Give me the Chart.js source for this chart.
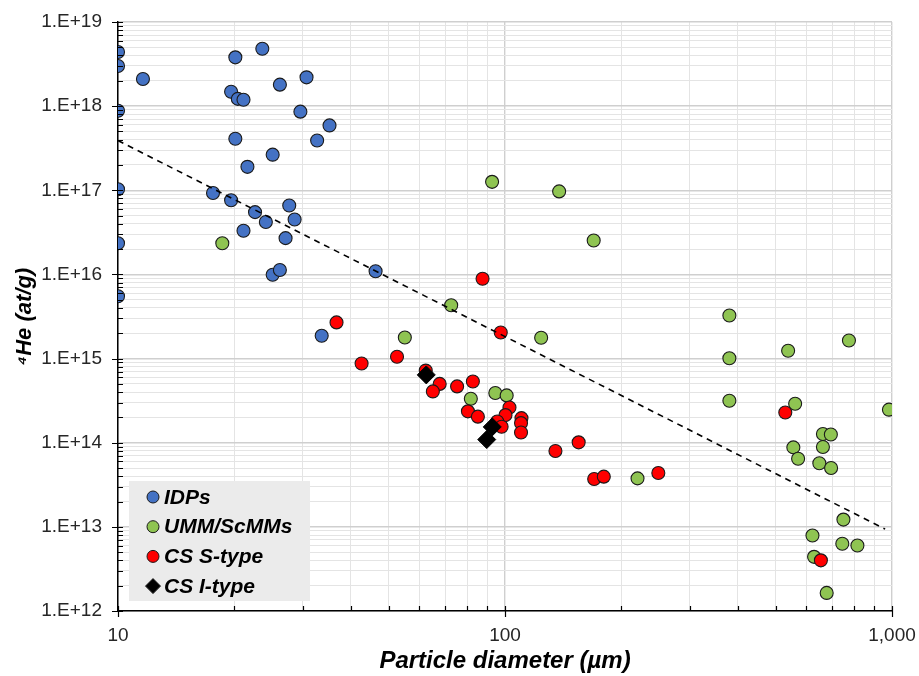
<!DOCTYPE html>
<html>
<head>
<meta charset="utf-8">
<script src="https://cdn.jsdelivr.net/npm/chart.js@4.4.1/dist/chart.umd.min.js"></script>
<style>
  body { margin: 0; background: #fff; }
  #wrap { width: 919px; height: 676px; }
</style>
</head>
<body>
<div id="wrap"><canvas id="heChart" width="919" height="676"></canvas></div>
<script>
// ---- data ----
const idpD  = [10, 10, 11.6, 10, 20.1, 23.6, 26.2, 30.7, 19.6, 20.4, 21.1, 29.6, 35.2, 32.7, 20.1, 25.1, 21.6, 10, 17.6, 19.6, 27.7, 22.6, 28.6, 24.1, 21.1, 27.1, 10, 25.1, 26.2, 10, 46.3, 33.6];
const idpHe = [4.4e18, 3.0e18, 2.1e18, 8.8e17, 3.8e18, 4.8e18, 1.8e18, 2.2e18, 1.48e18, 1.22e18, 1.19e18, 8.6e17, 5.9e17, 3.9e17, 4.1e17, 2.65e17, 1.9e17, 1.03e17, 9.3e16, 7.6e16, 6.6e16, 5.5e16, 4.5e16, 4.2e16, 3.3e16, 2.7e16, 2.35e16, 9.9e15, 1.13e16, 5.5e15, 1.09e16, 1.87e15];

const ummD  = [18.6, 92.6, 138, 169.5, 72.6, 55.1, 124, 94.4, 101, 81.6, 380, 380, 380, 539, 774, 562, 982, 663, 695, 556, 663, 572, 649, 696, 220, 749, 623, 744, 814, 629, 678];
const ummHe = [2.35e16, 1.26e17, 9.7e16, 2.53e16, 4.3e15, 1.78e15, 1.77e15, 3.9e14, 3.65e14, 3.33e14, 3.25e15, 1.01e15, 3.15e14, 1.24e15, 1.64e15, 2.9e14, 2.47e14, 1.27e14, 1.25e14, 8.8e13, 8.9e13, 6.45e13, 5.7e13, 5.0e13, 3.77e13, 1.22e13, 7.9e12, 6.3e12, 6.0e12, 4.4e12, 1.64e12];

const sTypeD  = [87.5, 97.5, 36.7, 42.6, 52.6, 62.4, 67.8, 65.1, 75.2, 82.6, 80.2, 85.1, 102.7, 100.3, 95.5, 98, 110.3, 110, 110, 135, 155, 170, 180, 249, 530, 655];
const sTypeHe = [8.9e15, 2.04e15, 2.69e15, 8.75e14, 1.05e15, 7.2e14, 5.0e14, 4.07e14, 4.67e14, 5.35e14, 2.36e14, 2.04e14, 2.62e14, 2.13e14, 1.79e14, 1.55e14, 1.96e14, 1.71e14, 1.32e14, 7.96e13, 1.01e14, 3.7e13, 3.95e13, 4.37e13, 2.29e14, 4.0e12];

const iTypeD  = [62.6, 92.7, 89.7];
const iTypeHe = [6.4e14, 1.54e14, 1.09e14];

// dashed power-law trend, end points
const trendD  = [10, 960];
const trendHe = [3.9e17, 9.4e12];

// axis ticks
const xMajor = [10, 100, 1000];
const xLabels = ["10", "100", "1,000"];
const yMajor = [1e12, 1e13, 1e14, 1e15, 1e16, 1e17, 1e18, 1e19];
const yLabels = ["1.E+12", "1.E+13", "1.E+14", "1.E+15", "1.E+16", "1.E+17", "1.E+18", "1.E+19"];

const legendItems = [
  { label: "IDPs", color: "#4472c4", style: "circle" },
  { label: "UMM/ScMMs", color: "#8fc452", style: "circle" },
  { label: "CS S-type", color: "#ff0000", style: "circle" },
  { label: "CS I-type", color: "#000000", style: "diamond" }
];

const pts = (xs, ys) => xs.map((x, i) => ({ x: x, y: ys[i] }));

// majors plus 2..9 minors in every decade
function withMinors(majors) {
  const out = [];
  for (let i = 0; i < majors.length - 1; i++) {
    for (let m = 1; m <= 9; m++) out.push(m * majors[i]);
  }
  out.push(majors[majors.length - 1]);
  return out;
}
const isMajor = v => Math.abs(Math.log10(v) - Math.round(Math.log10(v))) < 1e-9;

const FONT = "'Liberation Sans', Arial, sans-serif";

// small tick marks on the axis lines (minor inside, major crossing)
const axisTicks = {
  id: "axisTicks",
  afterDraw(chart) {
    const { ctx, chartArea: a } = chart;
    const xs = chart.scales.x, ys = chart.scales.y;
    ctx.save();
    ctx.strokeStyle = "#000";
    ctx.lineWidth = 1.2;
    ctx.beginPath();
    withMinors(yMajor).forEach(v => {
      const p = Math.round(ys.getPixelForValue(v)) + 0.5;
      if (isMajor(v)) { ctx.moveTo(a.left - 6, p); ctx.lineTo(a.left + 5, p); }
      else { ctx.moveTo(a.left, p); ctx.lineTo(a.left + 5, p); }
    });
    withMinors(xMajor).forEach(v => {
      const p = Math.round(xs.getPixelForValue(v)) + 0.5;
      if (isMajor(v)) { ctx.moveTo(p, a.bottom + 6); ctx.lineTo(p, a.bottom - 5); }
      else { ctx.moveTo(p, a.bottom); ctx.lineTo(p, a.bottom - 5); }
    });
    ctx.stroke();
    ctx.restore();
  }
};

// legend box inside the plot, lower left
const boxLegend = {
  id: "boxLegend",
  afterDatasetsDraw(chart) {
    const { ctx } = chart;
    ctx.save();
    ctx.fillStyle = "#ebebeb";
    ctx.fillRect(129, 481, 181, 120);
    ctx.font = "italic bold 21px " + FONT;
    ctx.textBaseline = "middle";
    legendItems.forEach((it, i) => {
      const cy = 497 + i * 29.7, cx = 153;
      ctx.beginPath();
      if (it.style === "circle") {
        ctx.arc(cx, cy, 6, 0, Math.PI * 2);
      } else {
        ctx.moveTo(cx, cy - 7.5); ctx.lineTo(cx + 7.5, cy); ctx.lineTo(cx, cy + 7.5); ctx.lineTo(cx - 7.5, cy); ctx.closePath();
      }
      ctx.fillStyle = it.color;
      ctx.fill();
      ctx.strokeStyle = "#1a1a1a";
      ctx.lineWidth = 1;
      ctx.stroke();
      ctx.fillStyle = "#000";
      ctx.fillText(it.label, 164, cy + 1);
    });
    ctx.restore();
  }
};

const circleSet = (label, data, color, order) => ({
  label, data, order,
  backgroundColor: color,
  borderColor: "#1a1a1a",
  borderWidth: 1.1,
  pointRadius: 6.5,
  pointHoverRadius: 6.5
});

new Chart(document.getElementById("heChart"), {
  type: "scatter",
  data: {
    datasets: [
      {
        label: "trend",
        data: pts(trendD, trendHe),
        showLine: true,
        borderColor: "#000",
        borderWidth: 1.6,
        borderDash: [6, 5],
        pointRadius: 0,
        order: 0
      },
      {
        label: "CS I-type",
        data: pts(iTypeD, iTypeHe),
        pointStyle: "rectRot",
        backgroundColor: "#000",
        borderColor: "#000",
        pointRadius: 9,
        order: 1
      },
      circleSet("CS S-type", pts(sTypeD, sTypeHe), "#ff0000", 2),
      circleSet("UMM/ScMMs", pts(ummD, ummHe), "#8fc452", 3),
      circleSet("IDPs", pts(idpD, idpHe), "#4472c4", 4)
    ]
  },
  options: {
    responsive: false,
    animation: false,
    layout: { padding: { top: 22, right: 27, left: 0, bottom: 0 } },
    plugins: { legend: { display: false }, tooltip: { enabled: false } },
    scales: {
      x: {
        type: "logarithmic",
        min: 10, max: 1000,
        afterBuildTicks: s => { s.ticks = withMinors(xMajor).map(v => ({ value: v, major: isMajor(v) })); },
        afterFit: s => { s.height = 65; s.paddingLeft = 0; s.paddingRight = 0; },
        ticks: {
          autoSkip: false,
          maxRotation: 0,
          padding: 13,
          color: "#262626",
          font: { family: FONT, size: 19 },
          callback: v => { const i = xMajor.indexOf(v); return i >= 0 ? xLabels[i] : ""; }
        },
        grid: {
          drawTicks: false,
          color: c => (c.tick && isMajor(c.tick.value)) ? "#cfcfcf" : "#e4e4e4",
          lineWidth: c => (c.tick && isMajor(c.tick.value)) ? 1.4 : 1
        },
        border: { color: "#000", width: 1.5 },
        title: {
          display: true,
          text: "Particle diameter (µm)",
          color: "#000",
          font: { family: FONT, size: 24, weight: "bold", style: "italic" },
          padding: { top: 0, bottom: 0 }
        }
      },
      y: {
        type: "logarithmic",
        min: 1e12, max: 1e19,
        afterBuildTicks: s => { s.ticks = withMinors(yMajor).map(v => ({ value: v, major: isMajor(v) })); },
        afterFit: s => { s.width = 118; s.paddingTop = 0; s.paddingBottom = 0; },
        ticks: {
          autoSkip: false,
          padding: 16,
          color: "#262626",
          font: { family: FONT, size: 19 },
          callback: v => { const i = yMajor.indexOf(v); return i >= 0 ? yLabels[i] : ""; }
        },
        grid: {
          drawTicks: false,
          color: c => (c.tick && isMajor(c.tick.value)) ? "#cfcfcf" : "#e4e4e4",
          lineWidth: c => (c.tick && isMajor(c.tick.value)) ? 1.4 : 1
        },
        border: { color: "#000", width: 1.5 },
        title: {
          display: true,
          text: "⁴He (at/g)",
          color: "#000",
          font: { family: FONT, size: 22, weight: "bold", style: "italic" },
          padding: { top: 12, bottom: 0 }
        }
      }
    }
  },
  plugins: [axisTicks, boxLegend]
});
</script>
</body>
</html>
